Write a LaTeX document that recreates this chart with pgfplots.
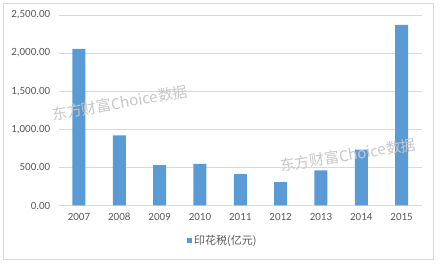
\documentclass[border=0pt]{standalone}
\usepackage{pgfplots}
\pgfplotsset{compat=1.18}
\usepackage{fontspec}
\setmainfont{Carlito}
\newfontfamily\cjk{Noto Sans CJK SC}
\definecolor{barblue}{HTML}{5B9BD5}
\definecolor{txtgray}{HTML}{595959}
\definecolor{gridgray}{HTML}{D9D9D9}
\begin{document}
\begin{tikzpicture}[x=1pt,y=1pt]
\begin{axis}[
  at={(0pt,0pt)}, anchor=south west,
  scale only axis,
  width=363pt, height=190.5pt,
  ymin=0, ymax=2500,
  ytick={0,500,1000,1500,2000,2500},
  xmin=-0.5, xmax=8.5,
  xtick={0,...,8},
  xticklabels={2007,2008,2009,2010,2011,2012,2013,2014,2015},
  ybar, bar width=13pt,
  axis line style={draw=none},
  major tick length=0pt,
  ymajorgrids,
  grid style={gridgray, line width=0.8pt},
  tick label style={font=\fontsize{11}{11}\selectfont, text=txtgray},
  /pgf/number format/assume math mode=true,
  /pgf/number format/fixed,
  /pgf/number format/fixed zerofill,
  /pgf/number format/precision=2,
  /pgf/number format/1000 sep={,},
  xticklabel style={yshift=-4pt},
  yticklabel style={xshift=-5pt},
  legend style={at={(0.452,-0.186)}, anchor=center, draw=none, fill=none,
    font=\cjk\fontsize{11}{11}\selectfont, text=txtgray,
    legend cell align=left, inner sep=0pt},
  legend image code/.code={\fill[barblue] (0pt,-2.5pt) rectangle (5pt,2.5pt);},
  clip=false,
]
\addplot[fill=barblue, draw=none] coordinates {
  (0,2054) (1,921) (2,531) (3,545) (4,413) (5,308) (6,462) (7,732) (8,2369)
};
\addlegendentry{印花税(亿元)}
\end{axis}
\node[rotate=10, text=black!22, font=\cjk\fontsize{15}{15}\selectfont] at (61.2,102.5) {东方财富Choice数据};
\node[rotate=9, text=black!22, font=\cjk\fontsize{15}{15}\selectfont] at (289.2,50.5) {东方财富Choice数据};
\draw[gridgray, line width=0.8pt] (-55.8,-53.5) rectangle (374.2,202.5);
\pgfresetboundingbox
\useasboundingbox (-58.8,-59.5) rectangle (381.2,205.5);
\end{tikzpicture}
\end{document}
